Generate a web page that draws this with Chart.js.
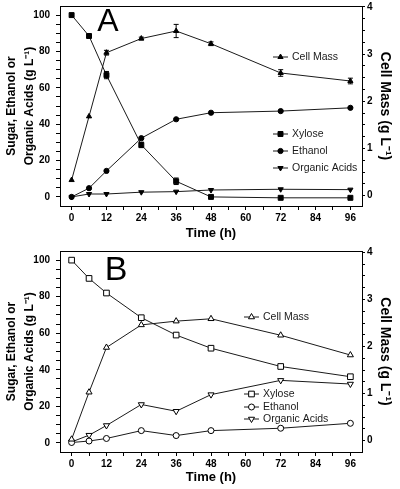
<!DOCTYPE html>
<html>
<head>
<meta charset="utf-8">
<script src="https://cdn.jsdelivr.net/npm/chart.js@4/dist/chart.umd.min.js"></script>
<style>
  html, body { margin: 0; padding: 0; background: #fff; }
  canvas { display: block; }
</style>
</head>
<body>
<canvas id="chartA" width="400" height="245"></canvas>
<canvas id="chartB" width="400" height="244"></canvas>
<script>
// sampling times (h)
const hours = [0, 6, 12, 24, 36, 48, 72, 96];

// panel A (filled symbols)
const xyloseA = [100, 88.5, 67, 28.6, 8.6, 0, -0.5, -0.5];
const xyloseErrA = [0, 0.8, 2, 1.5, 1.8, 0, 0, 0];
const ethanolA = [0, 4.8, 14.3, 32.3, 42.7, 46.3, 47.2, 49];
const acidsA = [0, 1.6, 1.6, 2.6, 2.9, 3.8, 4.2, 4];
const cellA = [0.33, 1.68, 3.03, 3.33, 3.49, 3.22, 2.6, 2.43];
const cellErrA = [0, 0, 0.05, 0.03, 0.14, 0.04, 0.07, 0.06];

// panel B (open symbols)
const xyloseB = [100, 90, 82, 68.5, 59, 51.8, 41.8, 36.2];
const ethanolB = [0.2, 1, 2.4, 6.7, 4, 6.7, 8, 10.7];
const acidsB = [0.5, 4.2, 9.5, 21, 17.3, 26.4, 34.2, 32.2];
const cellB = [0.03, 1.03, 1.98, 2.46, 2.54, 2.59, 2.24, 1.82];

// ticks
const xTicks = [0, 6, 12, 18, 24, 30, 36, 42, 48, 54, 60, 66, 72, 78, 84, 90, 96];
const xLabels = [0, 12, 24, 36, 48, 60, 72, 84, 96];
const leftTicks = [0, 5, 10, 15, 20, 25, 30, 35, 40, 45, 50, 55, 60, 65, 70, 75, 80, 85, 90, 95, 100];
const leftLabels = [0, 20, 40, 60, 80, 100];
const rightTicks = [0, 0.25, 0.5, 0.75, 1, 1.25, 1.5, 1.75, 2, 2.25, 2.5, 2.75, 3, 3.25, 3.5, 3.75, 4];
const rightLabels = [0, 1, 2, 3, 4];

const narrow = '"Liberation Sans Narrow", "Liberation Sans", Arial, sans-serif';
const sans = '"Liberation Sans", Arial, sans-serif';

function pts(ys) {
  return hours.map((h, i) => ({ x: h, y: ys[i] }));
}

function series(label, ys, axis, style, radius, open, rotation, errors) {
  return {
    label,
    data: pts(ys),
    yAxisID: axis,
    errors,
    borderColor: '#1a1a1a',
    borderWidth: 1,
    pointStyle: style,
    pointRadius: radius,
    pointRotation: rotation || 0,
    pointBackgroundColor: open ? '#fff' : '#000',
    pointBorderColor: '#000',
    pointBorderWidth: 1,
    tension: 0,
  };
}

const decor = {
  id: 'decor',
  afterDatasetsDraw(chart, args, opts) {
    const ctx = chart.ctx;
    const ca = chart.chartArea;
    ctx.save();
    ctx.strokeStyle = '#000';
    ctx.lineWidth = 1;
    ctx.beginPath();
    ctx.moveTo(ca.left, ca.top + 0.5);
    ctx.lineTo(ca.right, ca.top + 0.5);
    ctx.stroke();

    // error bars
    chart.data.datasets.forEach((ds) => {
      if (!ds.errors) return;
      const ys = chart.scales[ds.yAxisID];
      ds.data.forEach((p, i) => {
        const e = ds.errors[i];
        if (!e) return;
        const x = chart.scales.x.getPixelForValue(p.x);
        const y1 = ys.getPixelForValue(p.y + e);
        const y2 = ys.getPixelForValue(p.y - e);
        ctx.beginPath();
        ctx.moveTo(x, y1); ctx.lineTo(x, y2);
        ctx.moveTo(x - 2.5, y1); ctx.lineTo(x + 2.5, y1);
        ctx.moveTo(x - 2.5, y2); ctx.lineTo(x + 2.5, y2);
        ctx.stroke();
      });
    });

    // panel letter
    ctx.fillStyle = '#000';
    ctx.font = opts.letterFont;
    ctx.textAlign = 'center';
    ctx.textBaseline = 'middle';
    ctx.fillText(opts.letter, opts.letterX, opts.letterY);

    // in-plot legend
    ctx.font = '10.5px ' + sans;
    ctx.textAlign = 'left';
    opts.legend.forEach((item) => {
      const ds = chart.data.datasets[item.index];
      ctx.strokeStyle = '#1a1a1a';
      ctx.beginPath();
      ctx.moveTo(item.x, item.y);
      ctx.lineTo(item.x + 15, item.y);
      ctx.stroke();
      ctx.fillStyle = ds.pointBackgroundColor;
      ctx.strokeStyle = '#000';
      Chart.helpers.drawPoint(ctx, {
        pointStyle: ds.pointStyle,
        radius: ds.pointRadius,
        rotation: ds.pointRotation,
        borderWidth: 1,
      }, item.x + 7.5, item.y);
      ctx.fillStyle = '#1a1a1a';
      ctx.fillText(ds.label, item.x + 19, item.y + 0.5);
    });
    ctx.restore();
  },
};

function fixedTicks(list) {
  return (axis) => {
    axis.ticks = list.map((v) => ({ value: v }));
  };
}

function fitWidth(w) {
  return (s) => {
    s.width = w;
    s.paddingTop = 0;
    s.paddingBottom = 0;
  };
}

function makePanel(id, datasets, o) {
  return new Chart(document.getElementById(id), {
    type: 'line',
    data: { datasets },
    plugins: [decor],
    options: {
      responsive: false,
      animation: false,
      layout: { padding: { top: 6, left: 0, right: 0, bottom: 0 } },
      plugins: {
        legend: { display: false },
        tooltip: { enabled: false },
        decor: o.decor,
      },
      scales: {
        x: {
          type: 'linear',
          position: 'bottom',
          min: -4,
          max: 100,
          afterBuildTicks: fixedTicks(xTicks),
          afterFit: (s) => {
            s.height = o.xHeight;
            s.paddingLeft = 0;
            s.paddingRight = 0;
          },
          border: { color: '#000', width: 1 },
          grid: { drawOnChartArea: false, color: '#000', tickLength: 4 },
          ticks: {
            autoSkip: false,
            maxRotation: 0,
            padding: 2,
            color: '#000',
            font: { family: narrow, size: 10, weight: 'bold' },
            callback: (v) => (xLabels.includes(v) ? v : ''),
          },
          title: {
            display: true,
            text: 'Time (h)',
            color: '#000',
            font: { family: sans, size: 13, weight: 'bold', lineHeight: 1.2 },
            padding: { top: 0, bottom: 4 },
          },
        },
        yL: {
          type: 'linear',
          position: 'left',
          min: -5,
          max: 105,
          afterBuildTicks: fixedTicks(leftTicks),
          afterFit: fitWidth(60),
          border: { color: '#000', width: 1 },
          grid: { drawOnChartArea: false, color: '#000', tickLength: 4 },
          ticks: {
            autoSkip: false,
            padding: 6,
            color: '#000',
            font: { family: narrow, size: 10, weight: 'bold' },
            callback: (v) => (leftLabels.includes(v) ? v : ''),
          },
          title: {
            display: true,
            text: ['Sugar, Ethanol or', 'Organic Acids (g L\u207B\u00B9)'],
            color: '#000',
            font: { family: sans, size: 12, weight: 'bold', lineHeight: 1.5 },
            padding: { top: 3, bottom: 0 },
          },
        },
        yR: {
          type: 'linear',
          position: 'right',
          min: o.rMin,
          max: o.rMax,
          afterBuildTicks: fixedTicks(rightTicks),
          afterFit: fitWidth(38),
          border: { color: '#000', width: 1 },
          grid: { drawOnChartArea: false, color: '#000', tickLength: 3 },
          ticks: {
            autoSkip: false,
            padding: 2,
            color: '#000',
            font: { family: narrow, size: 10, weight: 'bold' },
            callback: (v) => (rightLabels.includes(v) ? v : ''),
          },
          title: {
            display: true,
            text: 'Cell Mass (g L\u207B\u00B9)',
            color: '#000',
            font: { family: sans, size: 14, weight: 'bold', lineHeight: 1.2 },
            padding: { top: 7, bottom: 0 },
          },
        },
      },
    },
  });
}

makePanel('chartA', [
  series('Cell Mass', cellA, 'yR', 'triangle', 3, false, 0, cellErrA),
  series('Xylose', xyloseA, 'yL', 'rect', 3.5, false, 0, xyloseErrA),
  series('Ethanol', ethanolA, 'yL', 'circle', 2.6, false),
  series('Organic Acids', acidsA, 'yL', 'triangle', 3, false, 180),
], {
  xHeight: 39,
  rMin: -0.22,
  rMax: 4.02,
  decor: {
    letter: 'A', letterX: 108, letterY: 22, letterFont: '32px ' + sans,
    legend: [
      { index: 0, x: 273, y: 57 },
      { index: 1, x: 273, y: 134 },
      { index: 2, x: 273, y: 151 },
      { index: 3, x: 273, y: 168 },
    ],
  },
});

makePanel('chartB', [
  series('Cell Mass', cellB, 'yR', 'triangle', 3.5, true),
  series('Xylose', xyloseB, 'yL', 'rect', 4, true),
  series('Ethanol', ethanolB, 'yL', 'circle', 3, true),
  series('Organic Acids', acidsB, 'yL', 'triangle', 3.5, true, 180),
], {
  xHeight: 37,
  rMin: -0.24,
  rMax: 4.03,
  decor: {
    letter: 'B', letterX: 116, letterY: 26, letterFont: '34px ' + sans,
    legend: [
      { index: 0, x: 244, y: 72 },
      { index: 1, x: 244, y: 149 },
      { index: 2, x: 244, y: 162 },
      { index: 3, x: 244, y: 174 },
    ],
  },
});
</script>
</body>
</html>
